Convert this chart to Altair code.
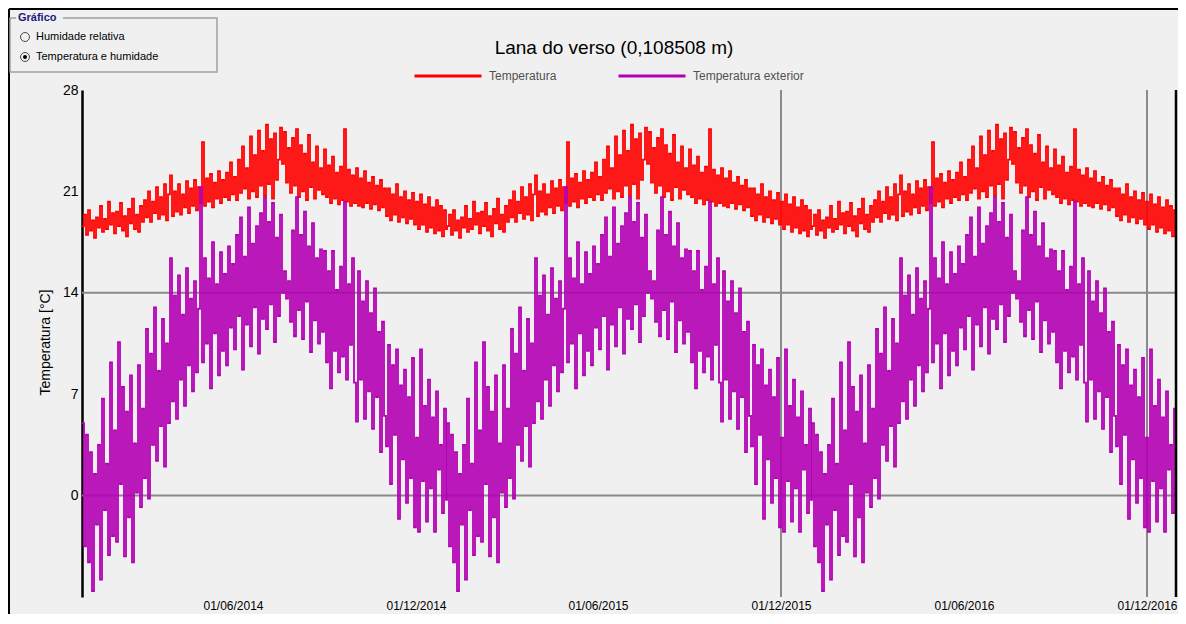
import altair as alt
import pandas as pd

# ---------------- data ----------------
years = [2014, 2015, 2016]
step_days = 2
series_names = ["Temperatura", "Temperatura exterior"]
series_colors = ["#ff0000", "#b400b4"]

# one year of values, every 2 days (the three years in the picture repeat)
red_year = [
    18.6, 19.4, 18.0, 19.7, 18.3, 19.0, 17.8, 19.2, 18.5, 20.0, 18.2, 19.1, 18.4, 20.3, 18.7, 19.5,
    18.1, 19.6, 18.6, 20.2, 18.3, 19.3, 17.9, 19.8, 18.8, 20.5, 18.4, 19.4, 18.2, 20.0,
    18.9, 20.4, 19.2, 21.0, 18.9, 20.3, 19.5, 21.3, 19.1, 20.6, 19.4, 21.5, 19.0, 20.8, 22.1,
    19.3, 21.0, 19.6, 21.5, 19.4, 20.8, 19.9, 21.7, 19.5, 21.2, 20.0, 21.8, 19.7, 21.3, 20.2,
    24.4, 20.0, 21.9, 20.3, 22.2, 19.9, 21.6, 20.5, 22.4, 20.2, 21.8, 20.6, 22.3, 20.4, 23.0, 20.8,
    22.0, 20.4, 23.2, 20.9, 24.1, 21.2, 22.6, 20.5, 24.8, 21.0, 23.5, 20.6, 25.2, 21.4, 23.8,
    20.7, 25.6, 21.5, 24.6, 20.5, 25.0, 21.8, 23.2, 25.4, 22.9, 25.1, 21.6, 24.0, 20.9, 24.7,
    21.4, 25.3, 20.6, 24.2, 21.0, 23.6, 20.4, 24.9, 21.3, 23.0, 20.5, 24.1, 21.1, 22.6, 20.8, 23.9,
    20.6, 22.8, 20.2, 23.4, 20.5, 22.3, 20.1, 22.7, 20.4, 25.3, 20.3, 22.5, 20.0, 22.1, 20.2,
    22.6, 20.0, 21.9, 19.9, 22.4, 20.2, 21.6, 19.8, 22.0, 20.1, 21.4, 19.7, 21.8, 19.9, 21.2,
    19.3, 21.2, 19.0, 20.8, 19.4, 21.5, 18.9, 20.6, 19.2, 21.0, 18.8, 20.4, 19.1, 20.9, 18.7,
    20.3, 18.4, 20.8, 18.7, 20.1, 18.2, 20.6, 18.5, 19.9, 18.1, 20.4, 18.3, 20.0, 17.9, 19.7, 18.4,
]
purple_year = [
    5.0, -3.5, 4.2, -4.6, 3.0, -6.6, 1.5, -2.0, 3.5, -5.8, 6.7, -1.0, 2.2, -4.1, 9.2, -2.8,
    4.5, -3.2, 10.6, 0.8, 7.5, -4.2, 5.8, -1.5, 8.3, -4.6, 3.6, 0.2, 9.0, -0.8,
    6.0, 1.2, 11.5, -0.2, 9.8, 3.5, 13.0, 2.4, 8.6, 4.8, 12.2, 2.0, 10.5, 5.0, 16.4,
    6.5, 13.8, 5.3, 15.2, 8.0, 12.5, 6.2, 15.7, 9.0, 13.6, 7.2, 14.8, 8.5, 12.9, 21.3,
    9.2, 16.4, 10.5, 15.0, 7.4, 17.5, 11.2, 14.6, 8.3, 16.8, 10.0, 15.3, 9.0, 17.2, 11.6, 16.0,
    10.1, 18.0, 12.4, 19.2, 8.7, 16.5, 11.8, 19.9, 10.3, 17.4, 13.0, 18.6, 9.8, 19.5, 12.2,
    20.6, 11.5, 18.9, 13.2, 20.2, 10.6, 17.8, 12.4, 19.4, 14.0, 15.5, 13.6, 14.8, 12.0, 18.3,
    11.0, 20.6, 12.8, 18.0, 10.8, 19.6, 13.4, 17.2, 9.9, 18.8, 12.1, 16.4, 10.5, 17.0, 11.3, 16.9,
    9.2, 15.5, 7.4, 16.9, 10.0, 14.2, 8.5, 15.8, 9.6, 20.3, 8.0, 14.6, 10.4, 16.4, 7.8,
    5.1, 15.5, 8.0, 13.4, 5.3, 14.8, 7.2, 12.6, 4.6, 14.3, 6.8, 11.3, 3.0, 12.0, 5.5,
    3.4, 10.4, 0.8, 9.0, 4.2, 10.1, -1.6, 7.6, 2.5, 8.7, -0.5, 6.8, 1.2, 9.5, -2.2,
    4.0, -2.5, 10.1, 1.0, 6.2, -1.8, 8.0, 0.5, 5.4, -2.5, 7.2, 1.8, 3.5, -1.2, 6.0, -0.3,
]

y_ticks = [0, 7, 14, 21, 28]
y_domain = [-7, 28]
y_grid = [0, 14]
x_domain = ["2014-01-01", "2016-12-31"]
x_tick_dates = ["2014-06-01", "2014-12-01", "2015-06-01", "2015-12-01", "2016-06-01", "2016-12-01"]
x_grid_dates = ["2015-12-01", "2016-12-01"]

title_text = "Lana do verso (0,108508 m)"
y_title = "Temperatura [°C]"
box_title = "Gráfico"
radio_labels = ["Humidade relativa", "Temperatura e humidade"]

# ---------------- table ----------------
rows = []
for yr in years:
    start = pd.Timestamp(f"{yr}-01-01")
    for i, (r, p) in enumerate(zip(red_year, purple_year)):
        d = (start + pd.Timedelta(days=step_days * i)).strftime("%Y-%m-%d")
        rows.append({"date": d, "serie": series_names[0], "temp": r})
        rows.append({"date": d, "serie": series_names[1], "temp": p})
df = pd.DataFrame(rows)


def dt(s):
    y, m, d = (int(v) for v in s.split("-"))
    return alt.DateTime(year=y, month=m, date=d, utc=True)


FONT = "Liberation Sans"
W, H = 1095, 507

xscale = alt.Scale(type="utc", domain=[dt(s) for s in x_domain], nice=False)
yscale = alt.Scale(domain=y_domain, nice=False, zero=False)

xaxis = alt.Axis(values=[dt(s) for s in x_tick_dates], format="%d/%m/%Y", grid=False,
                 ticks=False, domain=False, labelFontSize=12, labelPadding=3,
                 labelColor="black", labelFont=FONT, labelOverlap=False, title=None)
yaxis = alt.Axis(values=y_ticks, grid=False, ticks=False, domainColor="black",
                 domainWidth=2.5, labelFontSize=14, labelColor="black", labelFont=FONT,
                 labelPadding=4, title=y_title, titleX=-37, titleY=252,
                 titleAngle=-90, titleAlign="center", titleBaseline="middle",
                 titleFontSize=14, titleFontWeight="normal", titleColor="black", titleFont=FONT)

grid_h = alt.Chart(pd.DataFrame({"v": y_grid})).mark_rule(
    color="#8a8a8a", strokeWidth=2).encode(y=alt.Y("v:Q", scale=yscale, axis=yaxis))
grid_v = alt.Chart(pd.DataFrame({"d": x_grid_dates})).mark_rule(
    color="#8a8a8a", strokeWidth=2).encode(x=alt.X("d:T", scale=xscale, axis=xaxis))

lines = alt.Chart(df).mark_line(interpolate="step-after", strokeWidth=1.8).encode(
    x=alt.X("date:T", scale=xscale, axis=xaxis),
    y=alt.Y("temp:Q", scale=yscale, axis=yaxis),
    color=alt.Color("serie:N", scale=alt.Scale(domain=series_names, range=series_colors),
                    legend=alt.Legend(orient="none", legendX=331, legendY=-49,
                                      direction="horizontal", title=None,
                                      symbolType="stroke", symbolSize=4489,
                                      symbolStrokeWidth=3, labelFontSize=12,
                                      labelFont=FONT, labelOffset=6, columnPadding=55,
                                      labelColor="#505050", padding=0)),
    order=alt.Order("date:T"),
)

one = pd.DataFrame({"a": [0]})
title_mark = alt.Chart(one).mark_text(align="center", baseline="middle", fontSize=19,
                                      font=FONT, color="black").encode(
    x=alt.value(532), y=alt.value(-42), text=alt.value(title_text))
right_border = alt.Chart(one).mark_rule(color="black", strokeWidth=2.5).encode(
    x=alt.value(W - 1), y=alt.value(0), y2=alt.value(H))
frame_top = alt.Chart(one).mark_rule(color="black", strokeWidth=2).encode(
    x=alt.value(-73), x2=alt.value(W + 1), y=alt.value(-81))
frame_left = alt.Chart(one).mark_rule(color="black", strokeWidth=2).encode(
    x=alt.value(-73), y=alt.value(-81), y2=alt.value(H + 20))
box = alt.Chart(one).mark_rect(fillOpacity=0, stroke="#a0a0a0", strokeWidth=1.5).encode(
    x=alt.value(-72), x2=alt.value(135), y=alt.value(-72), y2=alt.value(-18))
box_title_bg = alt.Chart(one).mark_rect(color="#f0f0f0").encode(
    x=alt.value(-66), x2=alt.value(-19), y=alt.value(-78), y2=alt.value(-66))
box_title_txt = alt.Chart(one).mark_text(align="left", baseline="middle", fontSize=11,
                                         font=FONT, fontWeight="bold", color="#1a1a80").encode(
    x=alt.value(-64), y=alt.value(-72), text=alt.value(box_title))
radio1 = alt.Chart(one).mark_point(shape="circle", size=80, color="black", strokeWidth=1).encode(
    x=alt.value(-57), y=alt.value(-53))
radio2 = alt.Chart(one).mark_point(shape="circle", size=80, color="black", strokeWidth=1).encode(
    x=alt.value(-57), y=alt.value(-33))
radio2_dot = alt.Chart(one).mark_circle(size=16, color="black", opacity=1).encode(
    x=alt.value(-57), y=alt.value(-33))
radio1_txt = alt.Chart(one).mark_text(align="left", baseline="middle", fontSize=11,
                                      font=FONT, color="black").encode(
    x=alt.value(-46), y=alt.value(-53), text=alt.value(radio_labels[0]))
radio2_txt = alt.Chart(one).mark_text(align="left", baseline="middle", fontSize=11,
                                      font=FONT, color="black").encode(
    x=alt.value(-46), y=alt.value(-33), text=alt.value(radio_labels[1]))

chart = alt.layer(
    grid_h, grid_v, lines, right_border, frame_top, frame_left, title_mark,
    box, box_title_bg, box_title_txt, radio1, radio2, radio2_dot, radio1_txt, radio2_txt,
).properties(
    width=W, height=H,
    padding={"left": 74, "top": 82, "right": 1, "bottom": 17},
    autosize=alt.AutoSizeParams(type="none"),
    background="#f0f0f0",
).configure_view(stroke=None)

chart.save("out.html", embed_options={"renderer": "svg", "actions": False})
